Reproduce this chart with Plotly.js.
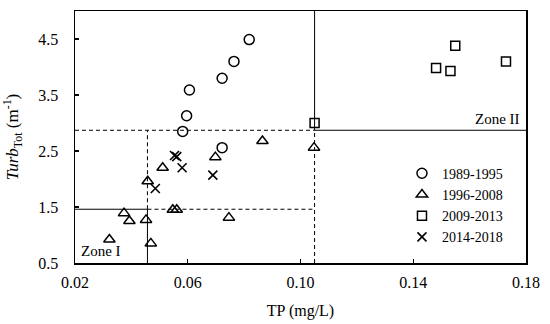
<!DOCTYPE html>
<html>
<head>
<meta charset="utf-8">
<script src="https://cdn.plot.ly/plotly-3.0.1.min.js"></script>
<style>html,body{margin:0;padding:0;background:#fff;}#chart{width:550px;height:324px;}</style>
</head>
<body>
<div id="chart"></div>
<script>
// Series values
const series1989_1995_tp   = [0.0818, 0.0764, 0.0722, 0.0606, 0.0596, 0.0582, 0.0722];
const series1989_1995_turb = [4.49, 4.10, 3.80, 3.59, 3.13, 2.85, 2.56];

const series1996_2008_tp   = [0.1048, 0.0865, 0.0698, 0.0511, 0.0458, 0.0547, 0.0561, 0.0374, 0.0393, 0.0452, 0.0746, 0.0322, 0.0469];
const series1996_2008_turb = [2.56, 2.68, 2.39, 2.20, 1.96, 1.45, 1.45, 1.39, 1.25, 1.27, 1.31, 0.92, 0.85];

const series2009_2013_tp   = [0.1549, 0.1481, 0.1532, 0.1729, 0.1050];
const series2009_2013_turb = [4.38, 3.98, 3.93, 4.10, 3.00];

const series2014_2018_tp   = [0.0553, 0.0561, 0.0580, 0.0689, 0.0485];
const series2014_2018_turb = [2.42, 2.40, 2.20, 2.07, 1.83];

const seriesNames = ["1989-1995", "1996-2008", "2009-2013", "2014-2018"];

// Zone thresholds
const tpThresholdLow = 0.0457, tpThresholdHigh = 0.105;
const turbThresholdLow = 1.46, turbThresholdHigh = 2.87;
const xRange = [0.02, 0.18], yRange = [0.5, 5.0];
const xTicks = [0.02, 0.06, 0.10, 0.14, 0.18];
const xTickLabels = ["0.02", "0.06", "0.10", "0.14", "0.18"];
const yTicks = [0.5, 1.5, 2.5, 3.5, 4.5];
const yTickLabels = ["0.5", "1.5", "2.5", "3.5", "4.5"];

const serif = "Liberation Serif";
const mk = (sym, size) => ({symbol: sym, size: size, color: "#000", line: {color: "#000", width: 1.5}});

const traces = [
  {x: series1989_1995_tp, y: series1989_1995_turb, name: seriesNames[0], type: "scatter", mode: "markers", marker: mk("circle-open", 10)},
  {x: series1996_2008_tp, y: series1996_2008_turb, name: seriesNames[1], type: "scatter", mode: "markers", marker: mk("triangle-up-open", 10)},
  {x: series2009_2013_tp, y: series2009_2013_turb, name: seriesNames[2], type: "scatter", mode: "markers", marker: mk("square-open", 9)},
  {x: series2014_2018_tp, y: series2014_2018_turb, name: seriesNames[3], type: "scatter", mode: "markers", marker: {symbol: "x-thin-open", size: 9, color: "#000", line: {color: "#000", width: 1.6}}}
];

const dashPattern = "4px,3px";
const ln = (x0, y0, x1, y1, dash) => ({type: "line", xref: "x", yref: "y", x0: x0, y0: y0, x1: x1, y1: y1, line: {color: "#000", width: 1, dash: dash}});
const shapes = [
  ln(tpThresholdHigh, turbThresholdHigh, tpThresholdHigh, yRange[1], "solid"),
  ln(tpThresholdHigh, yRange[0], tpThresholdHigh, turbThresholdHigh, dashPattern),
  ln(tpThresholdHigh, turbThresholdHigh, xRange[1], turbThresholdHigh, "solid"),
  ln(xRange[0], turbThresholdHigh, tpThresholdHigh, turbThresholdHigh, dashPattern),
  ln(tpThresholdLow, turbThresholdLow, tpThresholdLow, turbThresholdHigh, dashPattern),
  ln(tpThresholdLow, yRange[0], tpThresholdLow, turbThresholdLow, "solid"),
  ln(xRange[0], turbThresholdLow, tpThresholdLow, turbThresholdLow, "solid"),
  ln(tpThresholdLow, turbThresholdLow, tpThresholdHigh, turbThresholdLow, dashPattern)
];

const layout = {
  width: 550, height: 324,
  margin: {l: 75, r: 24, t: 11, b: 61},
  paper_bgcolor: "#fff", plot_bgcolor: "#fff",
  font: {family: serif, size: 16, color: "#000"},
  showlegend: true,
  legend: {x: 0.725, y: 0.418, xanchor: "left", yanchor: "top", bgcolor: "rgba(0,0,0,0)", font: {family: serif, size: 14, color: "#000"}, tracegroupgap: 0, itemwidth: 30},
  xaxis: {
    range: xRange, tickmode: "array", tickvals: xTicks, ticktext: xTickLabels,
    ticks: "inside", ticklen: 4, tickwidth: 1.2, tickcolor: "#000",
    showline: true, linecolor: "#000", linewidth: 1.5, mirror: true,
    showgrid: false, zeroline: false, ticklabelstandoff: 4,
    tickfont: {family: serif, size: 16, color: "#000"},
    title: {text: "TP (mg/L)", font: {family: serif, size: 16, color: "#000"}, standoff: 15}
  },
  yaxis: {
    range: yRange, tickmode: "array", tickvals: yTicks, ticktext: yTickLabels,
    ticks: "inside", ticklen: 4, tickwidth: 1.2, tickcolor: "#000",
    showline: true, linecolor: "#000", linewidth: 1.5, mirror: true,
    showgrid: false, zeroline: false, ticklabelstandoff: 12,
    tickfont: {family: serif, size: 16, color: "#000"},
    title: {text: "<i>Turb</i><sub>Tot</sub> (m<sup>-1</sup>)", font: {family: serif, size: 17, color: "#000"}, standoff: 15}
  },
  shapes: shapes,
  annotations: [
    {text: "Zone I", xref: "x", yref: "y", x: 0.0215, y: 0.72, xanchor: "left", yanchor: "middle", showarrow: false, font: {family: serif, size: 15, color: "#000"}},
    {text: "Zone II", xref: "x", yref: "y", x: 0.1785, y: 3.07, xanchor: "right", yanchor: "middle", showarrow: false, font: {family: serif, size: 15, color: "#000"}}
  ]
};

Plotly.newPlot("chart", traces, layout, {displayModeBar: false, staticPlot: true});
</script>
</body>
</html>
